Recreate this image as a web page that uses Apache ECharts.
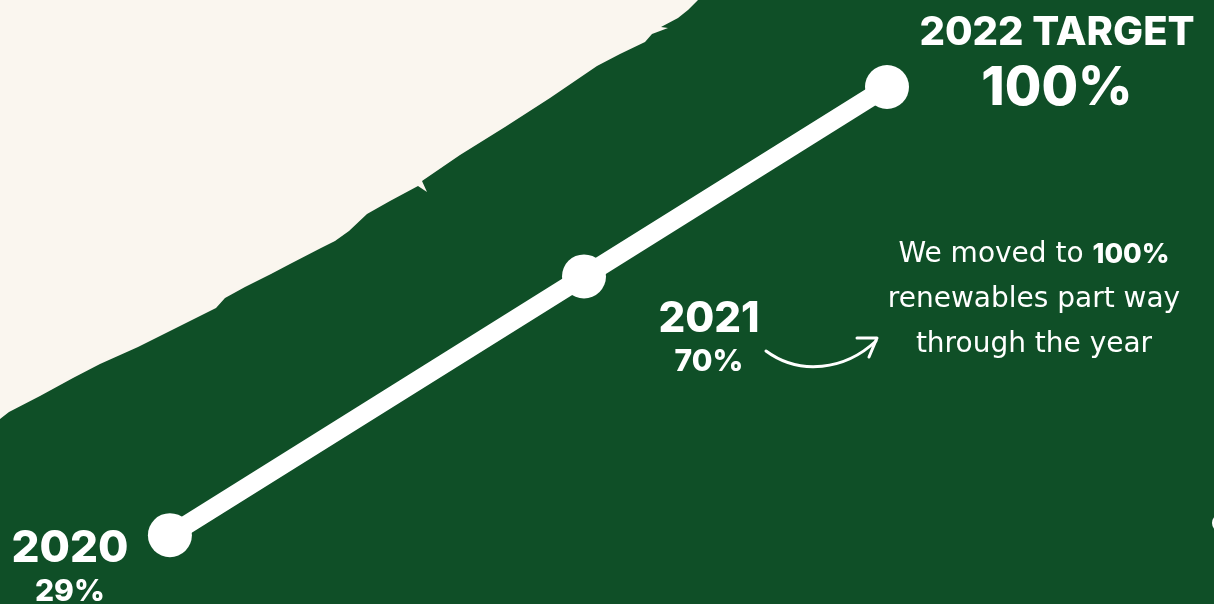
<!DOCTYPE html>
<html>
<head>
<meta charset="utf-8">
<script src="https://cdn.jsdelivr.net/npm/echarts@6/dist/echarts.min.js"></script>
<style>
  html, body { margin: 0; padding: 0; background: #0f4f27; }
  #chart { width: 1214px; height: 604px; }
</style>
</head>
<body>
<div id="chart"></div>
<script>
// Renewable electricity share, by year
const years = ['2020', '2021', '2022 TARGET'];
const shares = [29, 70, 100];
const shareLabels = ['29%', '70%', '100%'];

const GREEN = '#0f4f27';
const CREAM = '#faf6ef';
const WHITE = '#ffffff';
const FONT = 'Inter, "Noto Sans", sans-serif';
const NOTE_FONT = '"DejaVu Sans", sans-serif';

// label placement beside each milestone dot
const labelStyles = [
  { offset: [-100, 34], yearSize: 44, yearLH: 46, pctSize: 30, pctLH: 40 },
  { offset: [125, 63], yearSize: 42, yearLH: 46, pctSize: 30, pctLH: 40 },
  { offset: [170, -22], yearSize: 40, yearLH: 48, pctSize: 53, pctLH: 64 }
];

const points = shares.map((v, i) => {
  const s = labelStyles[i];
  return {
    value: [v, v],
    label: {
      show: true,
      position: 'inside',
      offset: s.offset,
      formatter: '{y|' + years[i] + '}\n{p|' + shareLabels[i] + '}',
      rich: {
        y: { fontSize: s.yearSize, lineHeight: s.yearLH, fontWeight: 800, color: WHITE, fontFamily: FONT, align: 'center' },
        p: { fontSize: s.pctSize, lineHeight: s.pctLH, fontWeight: 800, color: WHITE, fontFamily: FONT, align: 'center' }
      }
    }
  };
});

// brushed cream backdrop in the upper-left corner
const creamEdge = [
  [0, 0], [698, 0], [688, 10], [678, 18], [661, 27], [668, 28], [652, 34], [645, 42],
  [620, 54], [597, 66], [550, 98], [505, 127], [460, 155], [422, 181], [427, 192],
  [418, 186], [390, 201], [367, 214], [349, 231], [335, 241], [321, 248],
  [290, 264], [271, 274], [245, 287], [225, 298], [216, 308],
  [180, 326], [138, 347], [100, 364], [73, 378], [40, 396], [9, 412], [0, 419]
];

const chart = echarts.init(document.getElementById('chart'));
chart.setOption({
  backgroundColor: GREEN,
  animation: false,
  grid: { left: 79, right: 327, top: 87, bottom: 12 },
  xAxis: { type: 'value', min: 20, max: 100, show: false },
  yAxis: { type: 'value', min: 20, max: 100, show: false },
  graphic: [
    {
      type: 'polygon',
      z: 0,
      shape: { points: creamEdge },
      style: { fill: CREAM }
    },
    {
      type: 'circle',
      z: 1,
      shape: { cx: 1221, cy: 523, r: 9 },
      style: { fill: WHITE }
    },
    {
      type: 'text',
      z: 5,
      x: 1034,
      y: 232,
      style: {
        text: '{h|We moved to }{b|100%}\n{h|renewables part way}\n{h|through the year}',
        align: 'center',
        verticalAlign: 'top',
        fill: WHITE,
        rich: {
          h: { fontSize: 28, lineHeight: 45, fill: WHITE, fontFamily: NOTE_FONT, fontWeight: 'normal' },
          b: { fontSize: 27, lineHeight: 45, fill: WHITE, fontFamily: FONT, fontWeight: 800 }
        }
      }
    },
    {
      type: 'bezierCurve',
      z: 5,
      shape: { x1: 766, y1: 351, x2: 876, y2: 341, cpx1: 800, cpy1: 376, cpx2: 845, cpy2: 370 },
      style: { stroke: WHITE, lineWidth: 3, fill: null, lineCap: 'round' }
    },
    {
      type: 'polyline',
      z: 5,
      shape: { points: [[857, 338], [877, 338], [869, 357]] },
      style: { stroke: WHITE, lineWidth: 3, fill: null, lineCap: 'round', lineJoin: 'round' }
    }
  ],
  series: [{
    type: 'line',
    z: 3,
    data: points,
    symbol: 'circle',
    symbolSize: 44,
    lineStyle: { color: WHITE, width: 19 },
    itemStyle: { color: WHITE },
    emphasis: { disabled: true }
  }]
});
</script>
</body>
</html>
